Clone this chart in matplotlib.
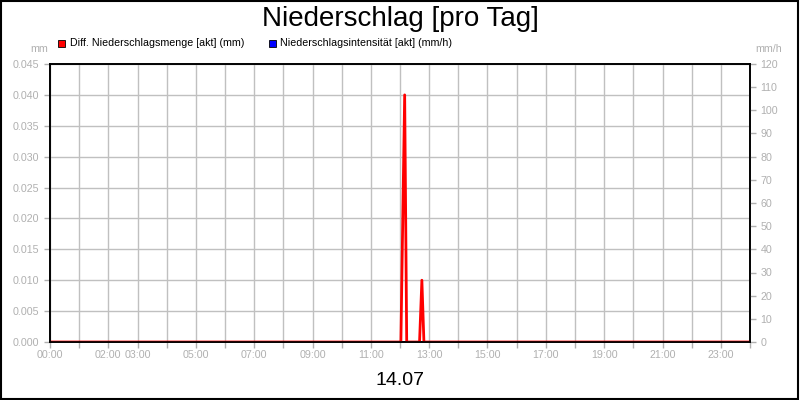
import matplotlib
matplotlib.use("Agg")
import matplotlib.pyplot as plt
from matplotlib.patches import Rectangle

plt.rcParams["font.family"] = ["Liberation Sans", "DejaVu Sans"]

# Zeitpunkte in Stunden, Werte in mm bzw. mm/h
zeit_menge = [0.0, 12.03, 12.16, 12.23, 12.67, 12.75, 12.82, 24.0]
menge = [0.0, 0.0, 0.040, 0.0, 0.0, 0.010, 0.0, 0.0]
zeit_intens = [0.0, 24.0]
intensitaet = [0.0, 0.0]

x_labels = ["00:00", "02:00", "03:00", "05:00", "07:00", "09:00", "11:00",
            "13:00", "15:00", "17:00", "19:00", "21:00", "23:00"]
x_label_pos = [0, 2, 3, 5, 7, 9, 11, 13, 15, 17, 19, 21, 23]
left_ticks = [i * 0.005 for i in range(10)]
right_ticks = list(range(0, 121, 10))

grau = "#b0b0b0"
grid_c = "#c0c0c0"

fig = plt.figure(figsize=(8, 4), dpi=100)
fig.patches.append(Rectangle((0.001, 0.002), 0.997, 0.995, transform=fig.transFigure,
                             fill=False, edgecolor="black", linewidth=1.5))

ax = fig.add_axes([0.0625, 0.145, 0.875, 0.695])
ax2 = ax.twinx()

ax.plot(zeit_intens, [v * 0.045 / 120 for v in intensitaet], color="#0000ff", linewidth=2, zorder=2)
ax.plot(zeit_menge, menge, color="#ff0000", linewidth=2, zorder=3)

ax.set_xlim(0, 24)
ax.set_ylim(0, 0.045)
ax2.set_ylim(0, 120)

ax.set_xticks(range(0, 25))
ax.set_xticklabels([""] * 25)
for pos, lab in zip(x_label_pos, x_labels):
    ax.text(pos, -0.03, lab, transform=ax.get_xaxis_transform(), ha="center", va="top",
            fontsize=7.7, color=grau)

ax.set_yticks(left_ticks)
ax.set_yticklabels([f"{v:.3f}" for v in left_ticks])
ax2.set_yticks(right_ticks)
ax2.set_yticklabels([str(v) for v in right_ticks])

ax.tick_params(axis="both", colors=grau, labelcolor=grau, labelsize=7.7, length=4, width=1)
ax2.tick_params(axis="y", colors=grau, labelcolor=grau, labelsize=7.7, length=4, width=1)

ax.grid(True, color=grid_c, linewidth=1)
ax.set_axisbelow(True)
for a in (ax, ax2):
    for s in a.spines.values():
        s.set_color("black")
        s.set_linewidth(1.2)

fig.text(0.5, 0.953, "Niederschlag [pro Tag]", ha="center", va="center", fontsize=20)
fig.text(0.5, 0.048, "14.07", ha="center", va="center", fontsize=14)
fig.text(0.06, 0.877, "mm", ha="right", va="center", fontsize=7.7, color=grau)
fig.text(0.944, 0.877, "mm/h", ha="left", va="center", fontsize=7.7, color=grau)

# Legende
fig.patches.append(Rectangle((0.0725, 0.883), 0.009, 0.018, transform=fig.transFigure,
                             facecolor="#ff0000", edgecolor="black", linewidth=0.6))
fig.text(0.087, 0.892, "Diff. Niederschlagsmenge [akt] (mm)", ha="left", va="center", fontsize=7.7)
fig.patches.append(Rectangle((0.336, 0.883), 0.009, 0.018, transform=fig.transFigure,
                             facecolor="#0000ff", edgecolor="black", linewidth=0.6))
fig.text(0.3505, 0.892, "Niederschlagsintensität [akt] (mm/h)", ha="left", va="center", fontsize=7.7)

fig.savefig("out.png", dpi=100)
